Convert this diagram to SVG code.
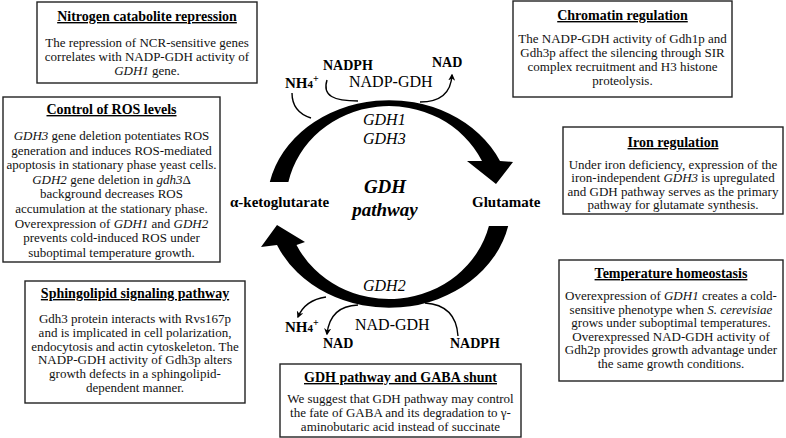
<svg xmlns="http://www.w3.org/2000/svg" width="786" height="438" viewBox="0 0 786 438">
<defs>
<style>
.box{fill:#fff;stroke:#222;stroke-width:1.4}
.t{font-family:"Liberation Serif","Times New Roman",serif;font-size:14px;font-weight:bold;text-anchor:middle;text-decoration:underline;fill:#000}
.b{font-family:"Liberation Serif","Times New Roman",serif;font-size:13px;text-anchor:middle;fill:#111}
.i{font-style:italic}
.lbl{font-family:"Liberation Serif","Times New Roman",serif;fill:#000}
.bold{font-weight:bold}
.thin{fill:none;stroke:#000;stroke-width:1.4}
</style>
<marker id="ah" viewBox="0 0 10 10" refX="8" refY="5" markerWidth="7" markerHeight="7" orient="auto" markerUnits="userSpaceOnUse">
<path d="M0,0 L10,5 L0,10 L3,5 Z" fill="#000"/>
</marker>
</defs>
<rect width="786" height="438" fill="#fff"/>

<g id="connectors">
<path id="top-arc" fill="#000" d="M269.8,182 A122,104 0 0 1 500,161 L513,162 L496,184 L467,161 L482,161 A103,96.5 0 0 0 288.4,182 Z"/>
<path id="bottom-arc" fill="#000" d="M508.2,226 A122,104 0 0 1 277,245 L261,247 L277,225 L305,242 L296.5,245 A103,96.5 0 0 0 488.9,226 Z"/>
<path class="thin" d="M292,93 Q292,112 311,118"/>
<path class="thin" d="M327,80 C322,96 334,101 358,101"/>
<path class="thin" d="M420,102 C440,102 451,93 452,75" marker-end="url(#ah)"/>
<path class="thin" d="M326,297 Q305,300 298,317" marker-end="url(#ah)"/>
<path class="thin" d="M358,305 Q330,306 327,334" marker-end="url(#ah)"/>
<path class="thin" d="M425,303 Q456,305 458,336"/>
</g>

<g id="center-labels">
<text class="lbl bold" x="323" y="70" font-size="14">NADPH</text>
<text class="lbl bold" x="285" y="88" font-size="15">NH<tspan font-size="11">4</tspan><tspan font-size="10" dy="-6">+</tspan></text>
<text class="lbl" x="349" y="87" font-size="16">NADP-GDH</text>
<text class="lbl bold" x="432" y="67" font-size="14">NAD</text>
<text class="lbl i" x="363" y="125" font-size="16">GDH1</text>
<text class="lbl i" x="363" y="144" font-size="16">GDH3</text>
<text class="lbl bold" x="230" y="207" font-size="15">α-ketoglutarate</text>
<text class="lbl bold" x="472" y="207" font-size="15">Glutamate</text>
<text class="lbl bold i" x="385" y="193" font-size="19" text-anchor="middle">GDH</text>
<text class="lbl bold i" x="385" y="216" font-size="19" text-anchor="middle">pathway</text>
<text class="lbl i" x="363" y="291" font-size="16">GDH2</text>
<text class="lbl bold" x="285" y="332" font-size="15">NH<tspan font-size="11">4</tspan><tspan font-size="10" dy="-6">+</tspan></text>
<text class="lbl bold" x="323" y="348" font-size="14">NAD</text>
<text class="lbl" x="355" y="330" font-size="16">NAD-GDH</text>
<text class="lbl bold" x="450" y="348" font-size="14">NADPH</text>
</g>

<g id="nitrogen">
<rect class="box" x="37" y="2" width="220" height="81"/>
<text class="t" x="147" y="21">Nitrogen catabolite repression</text>
<text class="b" x="147" y="47">The repression of NCR-sensitive genes</text>
<text class="b" x="147" y="61">correlates with NADP-GDH activity of</text>
<text class="b" x="147" y="75"><tspan class="i">GDH1</tspan> gene.</text>
</g>

<g id="ros">
<rect class="box" x="3" y="97" width="217" height="165"/>
<text class="t" x="111.5" y="114">Control of ROS levels</text>
<text class="b" x="111.5" y="140"><tspan class="i">GDH3</tspan> gene deletion potentiates ROS</text>
<text class="b" x="111.5" y="154.6">generation and induces ROS-mediated</text>
<text class="b" x="111.5" y="169.2">apoptosis in stationary phase yeast cells.</text>
<text class="b" x="111.5" y="183.8"><tspan class="i">GDH2</tspan> gene deletion in <tspan class="i">gdh3</tspan>Δ</text>
<text class="b" x="111.5" y="198.4">background decreases ROS</text>
<text class="b" x="111.5" y="213">accumulation at the stationary phase.</text>
<text class="b" x="111.5" y="227.6">Overexpression of <tspan class="i">GDH1</tspan> and <tspan class="i">GDH2</tspan></text>
<text class="b" x="111.5" y="242.2">prevents cold-induced ROS under</text>
<text class="b" x="111.5" y="256.8">suboptimal temperature growth.</text>
</g>

<g id="sphingolipid">
<rect class="box" x="25" y="281" width="220" height="122"/>
<text class="t" x="135" y="298">Sphingolipid signaling pathway</text>
<text class="b" x="135" y="323">Gdh3 protein interacts with Rvs167p</text>
<text class="b" x="135" y="336.8">and is implicated in cell polarization,</text>
<text class="b" x="135" y="350.6">endocytosis and actin cytoskeleton. The</text>
<text class="b" x="135" y="364.4">NADP-GDH activity of Gdh3p alters</text>
<text class="b" x="135" y="378.2">growth defects in a sphingolipid-</text>
<text class="b" x="135" y="392">dependent manner.</text>
</g>

<g id="chromatin">
<rect class="box" x="513" y="1" width="219" height="96"/>
<text class="t" x="622.5" y="20">Chromatin regulation</text>
<text class="b" x="622.5" y="43">The NADP-GDH activity of Gdh1p and</text>
<text class="b" x="622.5" y="57">Gdh3p affect the silencing through SIR</text>
<text class="b" x="622.5" y="71">complex recruitment and H3 histone</text>
<text class="b" x="622.5" y="85">proteolysis.</text>
</g>

<g id="iron">
<rect class="box" x="563" y="127" width="220" height="87"/>
<text class="t" x="673" y="147">Iron regulation</text>
<text class="b" x="673" y="168.5">Under iron deficiency, expression of the</text>
<text class="b" x="673" y="182"><tspan>iron-independent </tspan><tspan class="i">GDH3</tspan> is upregulated</text>
<text class="b" x="673" y="195.5">and GDH pathway serves as the primary</text>
<text class="b" x="673" y="209">pathway for glutamate synthesis.</text>
</g>

<g id="temperature">
<rect class="box" x="559" y="260" width="224" height="121"/>
<text class="t" x="671" y="278">Temperature homeostasis</text>
<text class="b" x="671" y="300">Overexpression of <tspan class="i">GDH1</tspan> creates a cold-</text>
<text class="b" x="671" y="313.6">sensitive phenotype when <tspan class="i">S. cerevisiae</tspan></text>
<text class="b" x="671" y="327.2">grows under suboptimal temperatures.</text>
<text class="b" x="671" y="340.8">Overexpressed NAD-GDH activity of</text>
<text class="b" x="671" y="354.4">Gdh2p provides growth advantage under</text>
<text class="b" x="671" y="368">the same growth conditions.</text>
</g>

<g id="gaba">
<rect class="box" x="280" y="364" width="241" height="73"/>
<text class="t" x="400.5" y="382">GDH pathway and GABA shunt</text>
<text class="b" x="400.5" y="403">We suggest that GDH pathway may control</text>
<text class="b" x="400.5" y="417">the fate of GABA and its degradation to γ-</text>
<text class="b" x="400.5" y="431">aminobutaric acid instead of succinate</text>
</g>
</svg>
